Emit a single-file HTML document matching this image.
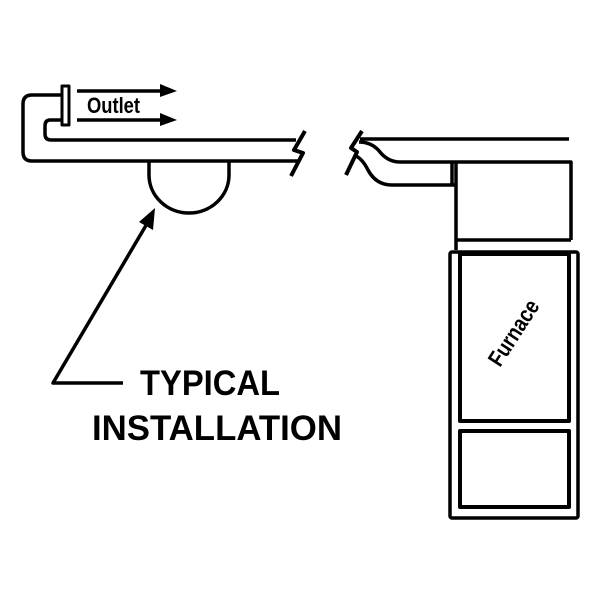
<!DOCTYPE html>
<html><head><style>
html,body{margin:0;padding:0;background:#fff;}
svg{display:block;}
text{font-family:"Liberation Sans",sans-serif;font-weight:bold;fill:#000;}
</style></head><body>
<svg width="600" height="600" viewBox="0 0 600 600" xmlns="http://www.w3.org/2000/svg">
<g fill="none" stroke="#000" stroke-width="3.5" stroke-linejoin="round">
  <path d="M62 95 H32 Q23 95 23 104 V152 Q23 161 32 161 H300"/>
  <path d="M62 120 H50 Q45 120 45 126 V134 Q45 140 51 140 H296"/>
  <rect x="62" y="86" width="7" height="39" stroke-width="3"/>
  <path d="M305 131 L294 150 L303 153 L291 176" stroke-width="4"/>
  <path d="M362 131 L351 148 L357 152 L346 175" stroke-width="4"/>
  <path d="M360 139 H569"/>
  <path d="M359 142 Q372 142 380 152 Q388 162 400 162 H571 V240"/>
  <path d="M354 155 Q362 158 368 170 Q376 185 392 185 H456"/>
  <path d="M456 162 V250" />
  <path d="M452 162 V186"/>
  <path d="M456 240 H571"/>
  <path d="M149 162 V175 A40 38 0 0 0 229 175 V162"/>
  <rect x="450" y="252" width="128" height="266" rx="2"/>
  <rect x="460" y="254" width="109" height="167" stroke-width="4"/>
  <rect x="460" y="431" width="109" height="76" stroke-width="4"/>
  <path d="M77 91 H162 M77 120 H162"/>
  <path d="M123 383 H53 L148 222"/>
</g>
<g fill="#000">
  <polygon points="160,84 177,91 160,97"/>
  <polygon points="160,113 177,120 160,126"/>
  <polygon points="155,208 139,222 153,230"/>
</g>
<text x="0" y="0" font-size="17" transform="translate(87,113) scale(1,1.3)" textLength="53" lengthAdjust="spacingAndGlyphs">Outlet</text>
<text x="140" y="395" font-size="35" textLength="140" lengthAdjust="spacingAndGlyphs">TYPICAL</text>
<text x="92" y="440" font-size="35" textLength="250" lengthAdjust="spacingAndGlyphs">INSTALLATION</text>
<text x="0" y="0" font-size="19" transform="translate(500,368) rotate(-57) scale(1,1.2)" textLength="74" lengthAdjust="spacingAndGlyphs">Furnace</text>
</svg>
</body></html>
